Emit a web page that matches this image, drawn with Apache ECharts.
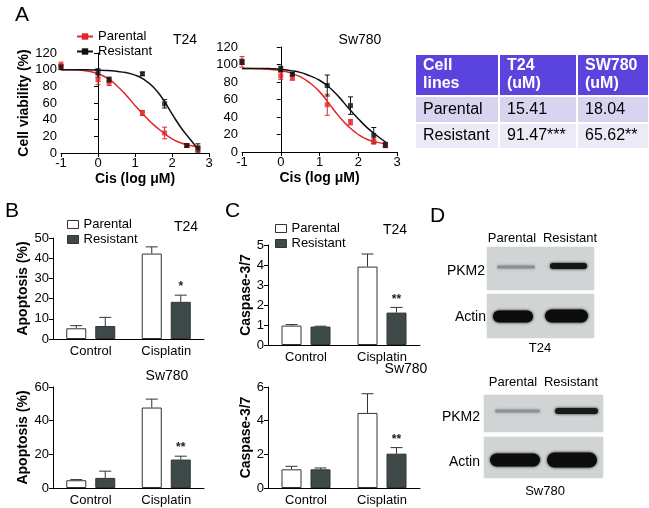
<!DOCTYPE html>
<html><head><meta charset="utf-8">
<script src="https://cdn.jsdelivr.net/npm/echarts@6/dist/echarts.min.js"></script>
<style>html,body{margin:0;padding:0;background:#fff}#c{width:649px;height:508px}</style>
</head><body><div id="c"></div>
<script>
// ---------- Panel A: dose-response ----------
const logDose = [-1, 0, 0.3, 1.2, 1.8, 2.4, 2.7];
const t24ParentalViab = [105, 88, 85, 48, 24, 9, 5];
const t24ParentalErr = [4, 6, 4, 3, 7, 2, 3];
const t24ResistantViab = [103, 96, 88, 95, 59, 9, 6];
const t24ResistantErr = [3, 5, 3, 2, 5, 2, 5];
const sw780ParentalViab = [103, 87, 85, 54, 34, 12, 8];
const sw780ParentalErr = [6, 4, 3, 12, 3, 3, 2];
const sw780ResistantViab = [103, 95, 89, 76, 53, 19, 8];
const sw780ResistantErr = [3, 3, 2, 12, 10, 9, 3];
// fitted curves
const fitX = [-1, -0.75, -0.5, -0.25, 0, 0.25, 0.5, 0.75, 1, 1.25, 1.5, 1.75, 2, 2.25, 2.5, 2.75];
const t24ParentalFit = [100, 100, 99.5, 98, 95, 90, 81, 70, 57, 45, 34, 25, 17, 12, 9, 7];
const t24ResistantFit = [100, 100, 100, 99.8, 99.5, 99, 98, 96.5, 93.5, 88, 79, 65, 47, 30, 16, 2];
const sw780ParentalFit = [95.5, 95.3, 95, 94.3, 93, 90.5, 86, 79, 69, 55, 41, 29, 20, 14, 11, 9];
const sw780ResistantFit = [95.5, 95.5, 95.5, 95.2, 94.5, 93, 91, 87, 82, 74, 63, 50, 38, 27, 18, 10];
const doseTicks = [-1, 0, 1, 2, 3];

// ---------- Panel B/C: bars ----------
const treatments = ['Control', 'Cisplatin'];
const t24ApoParental = [5.3, 42.3], t24ApoParentalErr = [1.3, 3.3];
const t24ApoResistant = [6.4, 18.4], t24ApoResistantErr = [4.3, 3.3];
const t24ApoSig = ['', '*'];
const sw780ApoParental = [4.6, 47.8], sw780ApoParentalErr = [0.4, 5.0];
const sw780ApoResistant = [6.0, 16.9], sw780ApoResistantErr = [4.0, 2.0];
const sw780ApoSig = ['', '**'];
const t24CasParental = [0.97, 3.92], t24CasParentalErr = [0.05, 0.63];
const t24CasResistant = [0.92, 1.62], t24CasResistantErr = [0.02, 0.26];
const t24CasSig = ['', '**'];
const sw780CasParental = [1.11, 4.46], sw780CasParentalErr = [0.18, 1.14];
const sw780CasResistant = [1.11, 2.04], sw780CasResistantErr = [0.08, 0.36];
const sw780CasSig = ['', '**'];

// ---------- IC50 table ----------
const tableHeader = [['Cell', 'lines'], ['T24', '(uM)'], ['SW780', '(uM)']];
const tableRows = [['Parental', '15.41', '18.04'], ['Resistant', '91.47***', '65.62**']];

const FONT = '"Liberation Sans", Arial, sans-serif';
const RED = '#e3262b', BLACK = '#111111', DARK = '#3e4949', EDGE = '#333333';
const BAR_W = 20, BAR_GAP = 9, CAP = 6;

const chart = echarts.init(document.getElementById('c'));

function zip(xs, ys) { return xs.map((x, i) => [x, ys[i]]); }

function valueAxisCommon(o) {
  return Object.assign({
    axisLine: { show: true, lineStyle: { color: '#000', width: 1 } },
    axisTick: { show: true, length: 4, lineStyle: { color: '#000' } },
    axisLabel: { color: '#000', fontSize: 13, fontFamily: FONT, margin: 4 },
    splitLine: { show: false },
    nameTextStyle: { color: '#000', fontSize: 14, fontWeight: 'bold', fontFamily: FONT }
  }, o);
}

const grids = [
  { left: 61, top: 53, width: 148, height: 100 },
  { left: 242, top: 47, width: 155, height: 105 },
  { left: 53, top: 238, width: 151, height: 101 },
  { left: 53, top: 387, width: 151, height: 101 },
  { left: 268, top: 245, width: 152, height: 100 },
  { left: 268, top: 387, width: 152, height: 101 }
];

const xAxes = [
  valueAxisCommon({ gridIndex: 0, type: 'value', min: doseTicks[0], max: doseTicks[doseTicks.length - 1], interval: 1,
    name: 'Cis (log μM)', nameLocation: 'middle', nameGap: 19 }),
  valueAxisCommon({ gridIndex: 1, type: 'value', min: doseTicks[0], max: doseTicks[doseTicks.length - 1], interval: 1,
    name: 'Cis (log μM)', nameLocation: 'middle', nameGap: 19 })
];
for (let g = 2; g < 6; g++) {
  xAxes.push(valueAxisCommon({ gridIndex: g, type: 'category', data: treatments,
    axisTick: { show: false }, axisLabel: { color: '#000', fontSize: 13, fontFamily: FONT, margin: 6 } }));
}
const yAxes = [
  valueAxisCommon({ gridIndex: 0, type: 'value', min: 0, max: 120, interval: 20,
    name: 'Cell viability (%)', nameLocation: 'middle', nameGap: 26 }),
  valueAxisCommon({ gridIndex: 1, type: 'value', min: 0, max: 120, interval: 20 }),
  valueAxisCommon({ gridIndex: 2, type: 'value', min: 0, max: 50, interval: 10,
    name: 'Apoptosis (%)', nameLocation: 'middle', nameGap: 15 }),
  valueAxisCommon({ gridIndex: 3, type: 'value', min: 0, max: 60, interval: 20,
    name: 'Apoptosis (%)', nameLocation: 'middle', nameGap: 15 }),
  valueAxisCommon({ gridIndex: 4, type: 'value', min: 0, max: 5, interval: 1,
    name: 'Caspase-3/7', nameLocation: 'middle', nameGap: 15 }),
  valueAxisCommon({ gridIndex: 5, type: 'value', min: 0, max: 6, interval: 2,
    name: 'Caspase-3/7', nameLocation: 'middle', nameGap: 15 })
];

const series = [];
// fitted curves first (legend A uses them)
function curve(name, gi, ys, color) {
  series.push({ name, type: 'line', xAxisIndex: gi, yAxisIndex: gi, data: zip(fitX, ys),
    smooth: 0.5, symbol: 'rect', symbolSize: 5, showSymbol: false,
    lineStyle: { color, width: 1.5 }, itemStyle: { color }, z: 2, silent: true });
}
curve('Parental', 0, t24ParentalFit, RED);
curve('Resistant', 0, t24ResistantFit, BLACK);
curve('Parental', 1, sw780ParentalFit, RED);
curve('Resistant', 1, sw780ResistantFit, BLACK);

function points(name, gi, ys, errs, color) {
  series.push({ name, type: 'scatter', xAxisIndex: gi, yAxisIndex: gi, data: zip(logDose, ys),
    symbol: 'rect', symbolSize: 5, itemStyle: { color }, z: 4 });
  series.push({ name, type: 'custom', xAxisIndex: gi, yAxisIndex: gi,
    data: logDose.map((x, i) => [x, ys[i], errs[i]]), z: 3,
    renderItem: function (params, api) {
      const x = api.value(0), y = api.value(1), e = api.value(2);
      const top = api.coord([x, y + e]), bot = api.coord([x, y - e]);
      const cx = top[0];
      return { type: 'group', children: [
        { type: 'line', shape: { x1: cx, y1: top[1], x2: cx, y2: bot[1] }, style: { stroke: color, lineWidth: 1 } },
        { type: 'line', shape: { x1: cx - 2.5, y1: top[1], x2: cx + 2.5, y2: top[1] }, style: { stroke: color, lineWidth: 1 } },
        { type: 'line', shape: { x1: cx - 2.5, y1: bot[1], x2: cx + 2.5, y2: bot[1] }, style: { stroke: color, lineWidth: 1 } }
      ] };
    } });
}
points('Parental', 0, t24ParentalViab, t24ParentalErr, RED);
points('Resistant', 0, t24ResistantViab, t24ResistantErr, BLACK);
points('Parental', 1, sw780ParentalViab, sw780ParentalErr, RED);
points('Resistant', 1, sw780ResistantViab, sw780ResistantErr, BLACK);

function bars(gi, par, parErr, res, resErr, sig) {
  series.push({ name: 'Parental', type: 'bar', xAxisIndex: gi, yAxisIndex: gi, data: par,
    barWidth: BAR_W, barGap: (BAR_GAP / BAR_W * 100) + '%',
    itemStyle: { color: '#ffffff', borderColor: EDGE, borderWidth: 1 }, z: 3 });
  series.push({ name: 'Resistant', type: 'bar', xAxisIndex: gi, yAxisIndex: gi, data: res,
    barWidth: BAR_W, barGap: (BAR_GAP / BAR_W * 100) + '%',
    itemStyle: { color: DARK, borderColor: EDGE, borderWidth: 1 }, z: 3 });
  [[par, parErr, -1, null], [res, resErr, 1, sig]].forEach(function (cfg) {
    const vals = cfg[0], errs = cfg[1], side = cfg[2], sg = cfg[3];
    series.push({ type: 'custom', xAxisIndex: gi, yAxisIndex: gi, z: 2,
      data: vals.map((v, i) => [i, v, errs[i]]),
      renderItem: function (params, api) {
        const c = api.value(0), v = api.value(1), e = api.value(2);
        const p0 = api.coord([c, v]), p1 = api.coord([c, v + e]);
        const x = p0[0] + side * (BAR_W + BAR_GAP) / 2;
        const ch = [
          { type: 'line', shape: { x1: x, y1: p0[1], x2: x, y2: p1[1] }, style: { stroke: EDGE, lineWidth: 1 } },
          { type: 'line', shape: { x1: x - CAP, y1: p1[1], x2: x + CAP, y2: p1[1] }, style: { stroke: EDGE, lineWidth: 1 } }
        ];
        const s = sg ? sg[params.dataIndex] : '';
        if (s) ch.push({ type: 'text', style: { text: s, x: x, y: p1[1] - 2, align: 'center', verticalAlign: 'bottom',
          fontSize: 12, fontWeight: 'bold', fontFamily: FONT, fill: '#222' } });
        return { type: 'group', children: ch };
      } });
  });
}
bars(2, t24ApoParental, t24ApoParentalErr, t24ApoResistant, t24ApoResistantErr, t24ApoSig);
bars(3, sw780ApoParental, sw780ApoParentalErr, sw780ApoResistant, sw780ApoResistantErr, sw780ApoSig);
bars(4, t24CasParental, t24CasParentalErr, t24CasResistant, t24CasResistantErr, t24CasSig);
bars(5, sw780CasParental, sw780CasParentalErr, sw780CasResistant, sw780CasResistantErr, sw780CasSig);

const legendText = { color: '#000', fontSize: 13, fontFamily: FONT, padding: [0, 0, 0, 0] };
const barLegendData = [
  { name: 'Parental', icon: 'rect', itemStyle: { color: '#ffffff', borderColor: EDGE, borderWidth: 1 } },
  { name: 'Resistant', icon: 'rect', itemStyle: { color: DARK, borderColor: EDGE, borderWidth: 1 } }
];
const legends = [
  { left: 76, top: 30, orient: 'vertical', itemGap: 2, itemWidth: 16, itemHeight: 8, itemSymbolSize: 5,
    data: ['Parental', 'Resistant'], textStyle: legendText, selectedMode: false, padding: 0 },
  { left: 67, top: 218, orient: 'vertical', itemGap: 2, itemWidth: 11, itemHeight: 8,
    data: barLegendData, textStyle: legendText, selectedMode: false, padding: 0 },
  { left: 275, top: 222, orient: 'vertical', itemGap: 2, itemWidth: 11, itemHeight: 8,
    data: barLegendData, textStyle: legendText, selectedMode: false, padding: 0 }
];

// ---------- graphics: labels, table, blots ----------
const G = [];
function txt(text, x, y, o) {
  G.push({ type: 'text', silent: true, style: Object.assign({ text, x, y, fill: '#000', fontSize: 13,
    fontFamily: FONT, align: 'center', verticalAlign: 'middle' }, o || {}) });
}
txt('A', 15, 15, { fontSize: 21, align: 'left' });
txt('B', 5, 211, { fontSize: 21, align: 'left' });
txt('C', 225, 211, { fontSize: 21, align: 'left' });
txt('D', 430, 216, { fontSize: 21, align: 'left' });
txt('T24', 185, 40, { fontSize: 14 });
txt('Sw780', 360, 40, { fontSize: 14 });
txt('T24', 186, 227, { fontSize: 14 });
txt('Sw780', 167, 376, { fontSize: 14 });
txt('T24', 395, 230, { fontSize: 14 });
txt('Sw780', 406, 369, { fontSize: 14 });

// table
const colX = [[416, 498], [500, 576], [578, 648]];
const rowY = [[55, 95], [97, 122], [124, 148]];
const rowFill = ['#5b44de', '#d7d4f0', '#ebeaf7'];
for (let r = 0; r < 3; r++) {
  for (let c = 0; c < 3; c++) {
    G.push({ type: 'rect', silent: true, shape: { x: colX[c][0], y: rowY[r][0], width: colX[c][1] - colX[c][0], height: rowY[r][1] - rowY[r][0] },
      style: { fill: rowFill[r] } });
  }
}
tableHeader.forEach((h, c) => {
  txt(h[0], colX[c][0] + 7, 66, { fontSize: 16, fontWeight: 'bold', fill: '#ffffff', align: 'left' });
  txt(h[1], colX[c][0] + 7, 84, { fontSize: 16, fontWeight: 'bold', fill: '#ffffff', align: 'left' });
});
tableRows.forEach((row, r) => {
  row.forEach((v, c) => txt(v, colX[c][0] + 7, (rowY[r + 1][0] + rowY[r + 1][1]) / 2, { fontSize: 16, align: 'left' }));
});

// western blots
function box(x1, y1, x2, y2) {
  G.push({ type: 'rect', silent: true, shape: { x: x1, y: y1, width: x2 - x1, height: y2 - y1 },
    style: { fill: '#d0d4d4', shadowBlur: 2, shadowColor: 'rgba(0,0,0,0.15)' } });
}
function band(x1, x2, cy, h, color) {
  G.push({ type: 'rect', silent: true, shape: { x: x1, y: cy - h / 2, width: x2 - x1, height: h, r: h / 2 },
    style: { fill: color, shadowBlur: 3, shadowColor: color } });
}
txt('Parental', 512, 238, { fontSize: 13 });
txt('Resistant', 570, 238, { fontSize: 13 });
box(487, 247, 594, 290);
box(487, 294, 594, 338);
band(497, 535, 267, 3, '#8a8e8e');
band(550, 587, 266, 6, '#141414');
band(493, 533, 316.5, 12, '#0c0c0c');
band(545, 588, 316, 13, '#0c0c0c');
txt('PKM2', 485, 271, { fontSize: 14, align: 'right' });
txt('Actin', 486, 317, { fontSize: 14, align: 'right' });
txt('T24', 540, 348, { fontSize: 13 });

txt('Parental', 513, 382, { fontSize: 13 });
txt('Resistant', 571, 382, { fontSize: 13 });
box(484, 395, 603, 432);
box(484, 437, 603, 478);
band(495, 540, 411, 3, '#8e9292');
band(555, 598, 411, 6, '#1a1a1a');
band(490, 540, 460, 13, '#0c0c0c');
band(547, 597, 460, 15, '#0c0c0c');
txt('PKM2', 480, 417, { fontSize: 14, align: 'right' });
txt('Actin', 480, 462, { fontSize: 14, align: 'right' });
txt('Sw780', 545, 491, { fontSize: 13 });

chart.setOption({
  animation: false,
  backgroundColor: '#ffffff',
  textStyle: { fontFamily: FONT },
  grid: grids,
  xAxis: xAxes,
  yAxis: yAxes,
  legend: legends,
  series: series,
  graphic: G
});
</script></body></html>
